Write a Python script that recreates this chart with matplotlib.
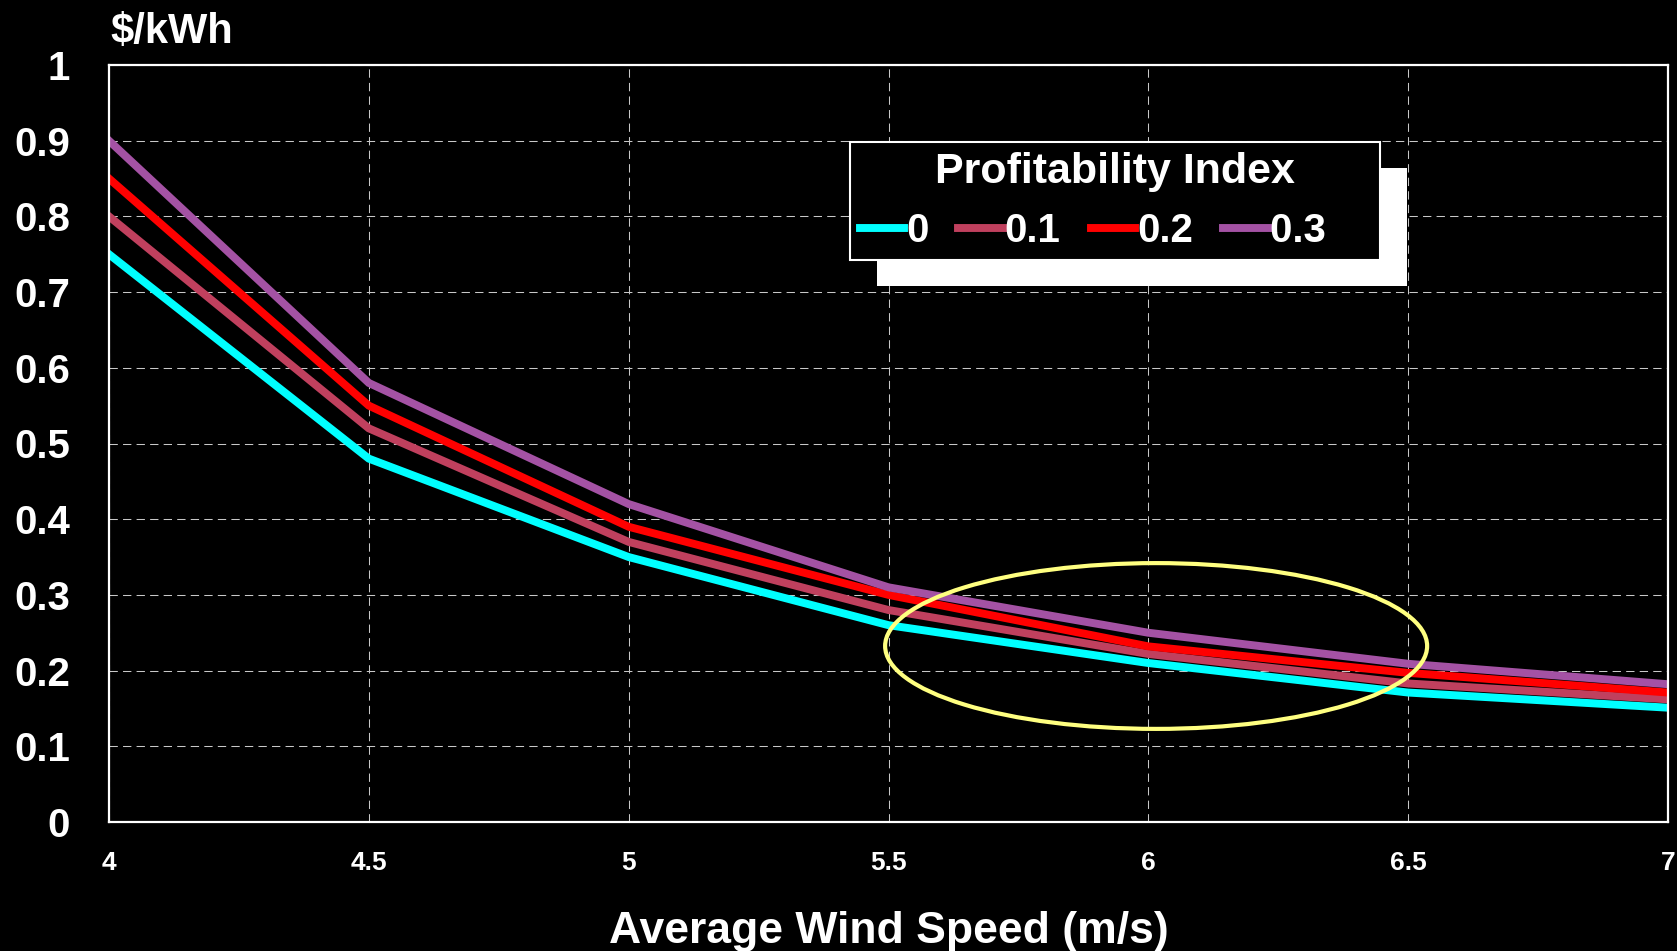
import matplotlib
matplotlib.use('Agg')
import matplotlib.pyplot as plt
from matplotlib.patches import Ellipse, Rectangle

plt.rcParams['font.family'] = ['Liberation Sans', 'DejaVu Sans']
plt.rcParams['font.weight'] = 'bold'

# 风速 (m/s)
wind_speed = [4, 4.5, 5, 5.5, 6, 6.5, 7]
# 各盈利指数下的电价 ($/kWh)
pi_labels = ['0', '0.1', '0.2', '0.3']
cost_00 = [0.75, 0.48, 0.35, 0.26, 0.21, 0.171, 0.151]
cost_01 = [0.80, 0.52, 0.37, 0.28, 0.222, 0.183, 0.162]
cost_02 = [0.85, 0.55, 0.39, 0.30, 0.232, 0.197, 0.171]
cost_03 = [0.90, 0.58, 0.42, 0.31, 0.25, 0.209, 0.182]
colors = ['#00FFFF', '#C0405E', '#FF0000', '#A452A4']

x_ticks = [4, 4.5, 5, 5.5, 6, 6.5, 7]
x_tick_labels = ['4', '4.5', '5', '5.5', '6', '6.5', '7']
y_ticks = [0, 0.1, 0.2, 0.3, 0.4, 0.5, 0.6, 0.7, 0.8, 0.9, 1]
y_tick_labels = ['0', '0.1', '0.2', '0.3', '0.4', '0.5', '0.6', '0.7', '0.8', '0.9', '1']

fig = plt.figure(figsize=(16.77, 9.51), dpi=100, facecolor='black')
ax = fig.add_axes([109 / 1677, 1 - 822 / 951, 1559 / 1677, 757 / 951])
ax.set_facecolor('black')

for vals, lab, c in zip([cost_00, cost_01, cost_02, cost_03], pi_labels, colors):
    ax.plot(wind_speed, vals, color=c, lw=5.7, label=lab, solid_joinstyle='miter')

ax.set_xlim(4, 7)
ax.set_ylim(0, 1)
ax.set_xticks(x_ticks)
ax.set_xticklabels(x_tick_labels, fontsize=19, fontweight='bold', color='white')
ax.set_yticks(y_ticks)
ax.set_yticklabels(y_tick_labels, fontsize=29, fontweight='bold', color='white')
ax.tick_params(axis='x', length=0, pad=21)
ax.tick_params(axis='y', length=0, pad=28)
ax.grid(True, color='#C8C8C8', lw=0.75, linestyle=(0, (8, 5)))
ax.set_axisbelow(True)
for s in ax.spines.values():
    s.set_color('white')
    s.set_linewidth(1.6)

# 黄色椭圆标注
ax.add_patch(Ellipse((6.015, 0.2325), 1.043, 0.219, fill=False,
                     edgecolor='#FFFF80', lw=3, zorder=6))

ax.set_xlabel('Average Wind Speed (m/s)', fontsize=32, fontweight='bold',
              color='white', labelpad=26)
fig.text(110 / 1677, 1 - 43 / 951, r'\$/kWh', fontsize=30, fontweight='bold',
         color='white', ha='left', va='baseline')

# 最后一项后面留空白，图例右侧留白与原图一致
handles, labels = ax.get_legend_handles_labels()
labels[-1] = labels[-1] + '    '
leg = ax.legend(handles, labels, title='Profitability Index', ncol=4,
                loc='upper left', bbox_to_anchor=(0.475, 0.898),
                borderaxespad=0, fontsize=29, title_fontsize=31,
                handlelength=1.1, handletextpad=0.05, columnspacing=0.75,
                borderpad=0.25, labelspacing=0.48, fancybox=False, frameon=True,
                facecolor='black', edgecolor='white', framealpha=1)
for t in leg.get_texts():
    t.set_color('white')
    t.set_fontweight('bold')
leg.get_title().set_color('white')
leg.get_title().set_fontweight('bold')
leg.get_frame().set_linewidth(1.5)
leg.set_zorder(8)

# 图例的白色阴影
fig.canvas.draw()
bb = leg.get_window_extent().transformed(ax.transAxes.inverted())
dx = 27 / 1559
dy = 26 / 757
ax.add_patch(Rectangle((bb.x0 + dx, bb.y0 - dy), bb.width, bb.height,
                       transform=ax.transAxes, facecolor='white',
                       edgecolor='none', zorder=7))

fig.savefig('out.png', dpi=100, facecolor='black')
